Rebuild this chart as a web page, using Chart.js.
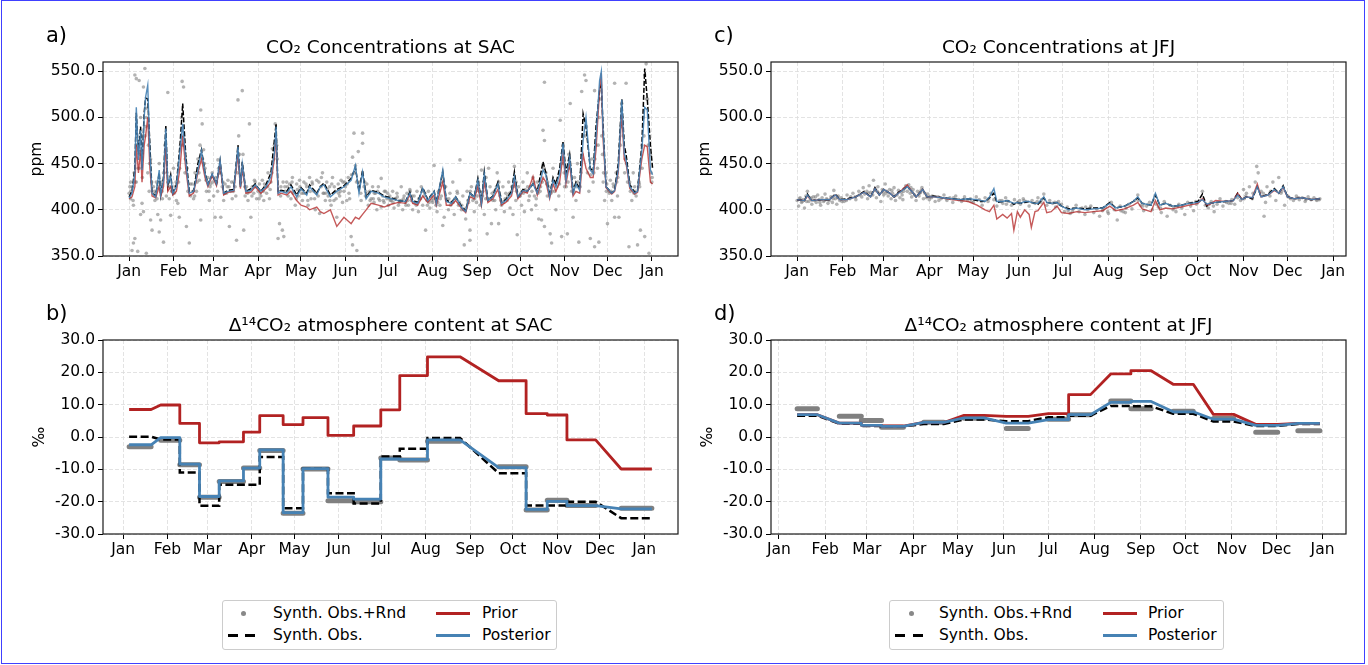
<!DOCTYPE html>
<html><head><meta charset="utf-8">
<script src="https://cdn.jsdelivr.net/npm/chart.js@4.4.0/dist/chart.umd.min.js"></script>
<style>
html,body{margin:0;padding:0;background:#fff;}
body{width:1368px;height:665px;position:relative;overflow:hidden;font-family:"DejaVu Sans",sans-serif;}
#outer{position:absolute;left:1px;top:0;width:1364px;height:664px;box-sizing:border-box;border:1px solid #4040ff;pointer-events:none;}
canvas{position:absolute;}
.legend{position:absolute;box-sizing:border-box;border:1px solid #cccccc;border-radius:3px;background:#fff;width:335px;height:50px;font-size:15.5px;color:#000;}
.legend div{position:absolute;}
.lt{line-height:18px;white-space:nowrap;}
.dot{width:5px;height:5px;border-radius:50%;background:#888;}
.dash{height:3px;width:10px;background:#000;}
.ln{height:3px;width:34px;}
</style>
</head><body>
<div id="outer"></div>
<canvas id="cA" width="690" height="295" style="left:0;top:0"></canvas>
<canvas id="cB" width="690" height="270" style="left:0;top:295px"></canvas>
<canvas id="cC" width="683" height="295" style="left:685px;top:0"></canvas>
<canvas id="cD" width="683" height="270" style="left:685px;top:295px"></canvas>

<div class="legend" style="left:222px;top:600px">
  <div class="dot" style="left:18px;top:10px"></div>
  <div class="lt" style="left:50px;top:3px">Synth. Obs.+Rnd</div>
  <div class="dash" style="left:5px;top:33px"></div><div class="dash" style="left:22px;top:33px"></div>
  <div class="lt" style="left:50px;top:25px">Synth. Obs.</div>
  <div class="ln" style="left:213px;top:11px;background:#b22222"></div>
  <div class="lt" style="left:259px;top:3px">Prior</div>
  <div class="ln" style="left:213px;top:33px;background:#4682b4"></div>
  <div class="lt" style="left:259px;top:25px">Posterior</div>
</div>
<div class="legend" style="left:889px;top:600px">
  <div class="dot" style="left:19px;top:10px"></div>
  <div class="lt" style="left:49px;top:3px">Synth. Obs.+Rnd</div>
  <div class="dash" style="left:5px;top:33px"></div><div class="dash" style="left:23px;top:33px"></div>
  <div class="lt" style="left:49px;top:25px">Synth. Obs.</div>
  <div class="ln" style="left:213px;top:11px;background:#b22222"></div>
  <div class="lt" style="left:258px;top:3px">Prior</div>
  <div class="ln" style="left:213px;top:33px;background:#4682b4"></div>
  <div class="lt" style="left:258px;top:25px">Posterior</div>
</div>

<script>
// ---------- axis ticks ----------
const monthStartDays = [0,31,59,90,120,151,181,212,243,273,304,334,365];
const monthLabels = ['Jan','Feb','Mar','Apr','May','Jun','Jul','Aug','Sep','Oct','Nov','Dec','Jan'];
const ppmTicks = [350,400,450,500,550];
const permilTicks = [-30,-20,-10,0,10,20,30];

// ---------- panel a: CO2 at SAC (day of year, ppm) ----------
const daysA = [0,2,4,5,6.5,8,9,10.5,11.5,13,14.5,16,18.5,21,22,24,25.6,27,29,30.5,33,35.5,37.4,39.5,42,45,48,50.5,53,55,58,61,63.5,66,69,73,76,77.7,79,81.5,85,88,92,95.5,99,101.4,102.6,104,106,110,113,117,120,124,126,131,133.5,136,140.5,145,150,155,158,160.5,163,165.5,169,174,178,183,188,193,196,198,201.5,205,208.5,213,214.5,219,221.5,225,228,232,235,238,241,243.5,246,248,250.5,254,257.5,260,263,267,269,271.5,275,278,282,285,289,291,293.6,296,298,300.6,303,305,307.6,310,312,314.6,317,319,322,324,326,328.5,329.7,330.8,333,337,339,341.5,344,345.7,347,349.6,353,355,358,360,361.8,364,365.5];
const postA = [413,418,440,511,454,486,443,500,522,535,461,418,414,443,416,432,488,428,436,418,425,464,493,454,418,420,443,464,439,427,439,428,454,418,420,421,468,425,450,420,421,427,420,425,436,461,490,418,420,418,425,414,423,416,425,416,425,427,414,420,425,432,448,418,441,412,420,418,414,412,410,409,418,409,407,423,410,420,407,443,409,407,414,403,398,418,414,432,407,439,410,414,428,407,410,418,436,414,421,420,428,418,443,438,414,432,425,439,472,432,457,418,428,421,475,500,443,439,479,540,550,490,425,418,421,443,519,461,454,425,418,420,464,511,508,443,438];
const priorA = [412,414,425,470,440,465,430,470,480,500,445,415,413,425,414,425,470,420,425,416,420,445,480,445,415,418,440,455,435,425,437,426,450,416,419,420,460,423,445,418,419,425,418,423,430,455,480,416,418,416,420,410,405,403,400,403,398,396,400,382,392,385,392,390,395,400,407,405,403,406,408,407,416,407,405,415,408,416,405,430,405,405,410,402,397,414,412,425,405,430,408,412,422,405,408,415,430,412,420,418,436,416,435,430,412,428,420,430,460,428,450,415,420,418,460,445,435,435,465,530,548,480,424,417,420,440,505,455,450,423,417,419,455,470,468,430,428];
const obsA = [414,420,445,505,460,490,445,505,521,520,470,418,415,440,416,435,491,425,438,418,427,470,515,460,420,420,450,465,440,428,438,428,453,418,421,422,470,425,452,420,423,428,420,427,440,475,493,419,421,420,427,416,424,418,427,418,425,429,416,422,426,434,446,420,443,414,421,419,415,413,410,409,419,410,408,424,411,420,408,441,410,408,414,404,399,418,414,434,408,441,410,415,430,408,411,420,441,414,422,420,428,420,452,440,415,435,428,445,474,440,460,420,430,423,504,490,445,441,490,530,535,495,425,418,421,450,520,470,460,427,419,421,470,553,520,470,445];
const obsRndA = [[0,418],[1,412],[1,430],[2,356],[2,425],[3,364],[3,405],[4,369],[4,546],[5,542],[5,430],[6,355],[6,470],[7,540],[7,445],[8,395],[8,500],[9,407],[9,460],[10,533],[10,398],[11,553],[11,480],[12,353],[12,500],[13,440],[14,420],[15,389],[15,455],[16,378],[17,425],[18,410],[19,430],[20,395],[21,376],[21,450],[22,389],[23,420],[24,365],[24,440],[25,470],[26,415],[27,527],[27,430],[28,412],[29,394],[30,420],[31,445],
[32,425],[33,410],[34,407],[35,392],[36,470],[37,539],[38,533],[38,480],[39,440],[40,382],[41,420],[42,364],[43,415],[44,428],[45,412],[46,440],[47,420],[48,455],[49,432],[50,508],[50,389],[51,493],[52,465],[53,445],[54,420],[55,435],[56,410],[57,428],[58,440],[59,415],
[60,392],[61,430],[62,454],[63,440],[64,392],[65,425],[66,410],[67,428],[68,418],[69,432],[70,382],[71,420],[72,412],[73,430],[74,425],[75,367],[76,519],[77,460],[78,430],[79,529],[80,378],[81,415],[82,425],[83,410],[84,493],[85,392],[86,425],[87,418],[88,430],[89,412],
[90,420],[91,428],[92,415],[93,432],[94,410],[95,425],[96,418],[97,440],[98,412],[99,430],[100,466],[101,455],[102,493],[103,470],[104,369],[105,385],[106,425],[107,378],[108,371],[109,420],[110,430],[111,415],[112,428],[113,412],[114,435],[115,420],[116,405],[117,428],[118,415],[119,432],
[120,422],[121,410],[122,430],[123,418],[124,425],[125,405],[126,435],[127,412],[128,428],[129,420],[130,400],[131,432],[132,415],[133,396],[134,425],[135,440],[136,418],[137,410],[138,430],[139,415],[140,425],[141,405],[142,435],[143,410],[144,420],[145,392],[146,428],[147,415],[148,432],[149,408],[150,420],
[151,425],[152,410],[153,435],[154,412],[155,371],[156,457],[156,362],[157,483],[158,448],[159,356],[160,463],[161,430],[162,410],[163,472],[163,483],[164,425],[165,415],[166,428],[167,405],[168,420],[169,412],[170,425],[171,408],[172,418],[173,400],[174,425],[175,410],[176,434],[176,403],[177,415],[178,408],[179,420],[180,412],
[181,405],[182,415],[183,410],[184,420],[185,402],[186,412],[187,418],[188,405],[189,410],[190,425],[191,400],[192,415],[193,408],[194,418],[195,405],[196,422],[197,410],[198,400],[199,415],[200,408],[201,420],[202,398],[203,412],[204,425],[205,405],[206,415],[207,378],[208,410],[209,420],[210,402],[211,415],
[212,408],[213,448],[214,412],[215,398],[216,420],[217,405],[218,415],[219,383],[220,392],[221,425],[222,410],[223,400],[224,418],[225,408],[226,430],[227,395],[228,412],[229,420],[230,405],[231,454],[232,400],[233,415],[234,362],[235,390],[236,420],[237,408],[238,367],[238,378],[239,425],[240,410],[241,398],[242,420],
[243,415],[244,430],[245,405],[246,443],[247,420],[248,395],[249,412],[250,374],[251,445],[252,425],[253,385],[254,410],[255,420],[256,400],[257,440],[258,385],[259,415],[260,405],[261,425],[262,398],[263,418],[264,410],[265,430],[266,402],[267,420],[268,395],[269,447],[270,410],[271,373],[272,425],
[273,415],[274,405],[275,430],[276,398],[277,420],[278,440],[279,410],[280,425],[281,400],[282,435],[283,415],[284,405],[285,430],[286,390],[287,420],[288,389],[289,486],[290,538],[290,475],[290,382],[291,440],[292,415],[293,425],[294,374],[295,364],[296,445],[297,420],[298,400],[299,430],[300,415],[301,497],[302,371],[303,470],[304,425],
[305,440],[306,374],[307,460],[308,515],[309,420],[310,392],[311,435],[312,410],[313,450],[314,365],[315,425],[316,528],[317,480],[318,546],[319,540],[320,440],[321,420],[322,369],[323,455],[324,430],[325,529],[325,360],[326,470],[327,445],[328,365],[329,520],[330,480],[331,430],[332,410],[333,440],[334,385],
[335,420],[336,432],[337,410],[338,428],[339,537],[339,392],[340,440],[341,415],[342,392],[343,470],[344,515],[345,480],[346,440],[347,537],[348,430],[349,360],[350,420],[351,410],[352,440],[353,425],[354,415],[355,362],[356,430],[357,378],[358,470],[359,500],[360,546],[360,371],[361,558],[362,520],[363,353],[364,460],[365,430],
[0.5,425],[3.5,440],[5.5,470],[9.5,480],[12.5,510],[13.5,470],[17.5,420],[19.5,412],[22.5,430],[25.5,460],[28.5,425],[31.5,418],[34.5,430],[36.5,500],[40.5,445],[44.5,420],[47.5,430],[49.5,470],[52.5,450],[56.5,425],
[60.5,435],[62.5,445],[65.5,430],[68.5,425],[71.5,430],[74.5,415],[76.5,480],[79.5,460],[83.5,420],[87.5,432],[91.5,418],[94.5,428],[98.5,422],[101.5,470],[103.5,455],[107.5,430],[110.5,425],[114.5,418],[117.5,422],
[120.5,418],[123.5,428],[126.5,420],[129.5,412],[132.5,430],[135.5,418],[138.5,422],[141.5,428],[144.5,412],[147.5,420],[150.5,430],[153.5,418],[157.5,440],[160.5,425],[164.5,430],[167.5,418],[170.5,412],[173.5,420],[177.5,410],[180.5,418],
[182.5,410],[185.5,412],[188.5,408],[191.5,412],[194.5,410],[197.5,415],[200.5,405],[203.5,412],[206.5,418],[209.5,408],[212.5,412],[215.5,408],[218.5,430],[221.5,412],[224.5,405],[227.5,412],[230.5,408],[233.5,400],[236.5,410],[239.5,415],[242.5,408],
[244.5,420],[247.5,430],[250.5,412],[253.5,418],[256.5,425],[259.5,410],[262.5,412],[265.5,418],[268.5,425],[270.5,420],[273.5,418],[276.5,422],[279.5,415],[282.5,430],[285.5,418],[288.5,430],[291.5,428],[294.5,418],[297.5,430],[300.5,428],[303.5,450],
[306.5,430],[309.5,425],[312.5,425],[315.5,440],[318.5,480],[321.5,445],[324.5,440],[327.5,470],[330.5,460],[333.5,428],[336.5,420],[340.5,430],[343.5,490],[346.5,455],[349.5,430],[352.5,418],[356.5,425],[359.5,480],[362.5,470],[364.5,440],
[1.25,420],[2.75,410],[4.25,430],[6.25,445],[7.75,460],[9.25,435],[11.25,490],[14.25,450],[15.75,430],[18.25,418],[20.25,425],[23.25,412],[26.25,440],[29.75,420],
[32.75,430],[35.25,445],[37.75,470],[39.25,455],[42.75,428],[45.75,415],[48.75,440],[51.25,455],[53.75,432],[55.75,420],[58.25,430],
[61.75,420],[63.25,440],[66.75,418],[69.75,425],[72.75,420],[75.75,440],[78.25,438],[80.75,425],[82.75,418],[85.75,415],[88.75,425],
[90.75,412],[93.75,420],[96.75,425],[99.75,440],[102.25,475],[105.75,415],[108.75,425],[111.75,420],[113.75,430],[116.75,412],[119.25,425],
[121.75,418],[124.75,410],[127.75,430],[130.75,418],[134.25,435],[137.25,418],[140.25,410],[143.25,425],[146.25,418],[149.25,430],
[152.25,428],[155.25,438],[158.75,430],[161.75,418],[165.25,420],[168.25,410],[171.25,418],[174.25,412],[178.25,420],
[181.75,412],[184.25,408],[187.25,414],[190.25,410],[193.25,405],[196.25,420],[199.25,408],[202.25,412],[205.25,420],[208.25,405],[211.25,410],
[214.25,405],[217.25,412],[220.25,425],[223.25,412],[226.25,408],[229.25,418],[232.25,405],[235.25,402],[238.25,420],[241.25,412],
[243.75,425],[246.75,415],[249.25,435],[252.25,412],[255.25,410],[258.25,430],[261.25,408],[264.25,415],[267.25,425],[270.25,430],[272.75,415],
[275.25,418],[278.25,425],[281.25,420],[284.25,412],[287.25,425],[289.75,445],[292.25,430],[295.25,420],[298.75,425],[301.75,450],[303.75,440],
[305.25,425],[307.25,445],[310.25,420],[313.25,430],[316.25,460],[319.25,490],[322.25,438],[325.25,455],[328.25,500],[331.25,440],[333.25,420],
[335.25,418],[338.25,425],[341.25,435],[344.25,500],[347.25,450],[350.25,425],[353.25,420],[356.25,428],[358.25,445],[361.25,520],[363.25,470],[365.25,435]];

// ---------- panel c: CO2 at JFJ ----------
const daysC = [0,5,7,10,16,22,26,29,34,40,45.6,50,53,56,59,63,66,69,75,78,81,85.5,88.5,93,99,105,111,116.5,122.5,128,131,134,136,140,143,146,147.6,150,152,155,158,159.5,162,164,168,170,173,177,180,185,190.5,196,202,208,213,217,223,229,232,235,241,244,247,251,255.6,261.5,267,273,276,279,281,285,291,297,300,303,306,310,313.4,316,320.7,325,328,331,334,338.5,344,350,356];
const postC = [411,410,416,410,411,411,416,411,411,414,419,414,423,416,422,418,414,418,425,420,414,422,414,414,413,412,411,412,411,409,414,423,409,409,410,408,407,408,407,409,409,408,407,407,414,408,407,408,404,400,402,400,401,402,407,402,404,409,414,407,405,418,405,407,404,405,407,408,411,406,407,408,409,410,416,411,414,413,425,414,416,422,418,425,414,412,413,411,412];
const priorC = [411,410,415,410,411,411,416,411,411,414,419,414,423,416,422,418,414,418,427,420,414,422,414,414,413,411,410,409,405,400,398,405,390,395,391,396,378,398,392,400,395,381,398,399,408,397,398,404,397,396,398,397,398,399,404,399,401,405,408,401,398,410,400,402,401,403,405,407,412,405,406,410,409,410,418,411,414,413,428,414,416,421,418,424,414,412,413,411,412];
const obsC = [411,410,417,410,411,411,417,411,412,414,420,414,424,416,422,418,414,419,425,420,414,422,414,415,413,412,411,412,410,409,413,418,408,409,410,408,406,408,407,408,409,408,407,406,413,408,407,408,404,401,402,401,402,402,408,402,404,409,413,407,405,416,405,407,404,405,407,409,417,404,407,408,409,410,418,411,414,412,425,414,417,423,418,426,414,412,413,411,412];
const obsRndC = [[0,410],[1,404],[2,413],[3,408],[4,411],[5,402],[6,415],[7,420],[8,409],[9,412],[10,406],[11,414],[12,410],[13,408],[14,416],[15,411],[16,405],[17,413],[18,409],[19,417],[20,412],[21,407],[22,410],[23,414],[24,408],[25,421],[26,412],[27,406],[28,415],[29,410],[30,413],
[32,409],[34,416],[36,412],[38,418],[40,411],[42,420],[44,414],[45,424],[46,417],[48,412],[49,426],[50,419],[52,432],[53,421],[54,413],[55,425],[56,418],[57,409],[58,422],[59,416],
[60,428],[61,420],[62,415],[63,422],[64,412],[65,418],[66,424],[67,410],[68,416],[69,421],[70,413],[71,419],[72,411],[73,423],[74,426],[75,420],[76,427],[77,418],[78,414],[79,422],[80,416],[81,410],[82,420],[83,415],[84,419],[85,424],[86,412],[87,418],[88,413],[89,417],
[90,411],[92,415],[94,409],[96,414],[98,412],[100,416],[102,410],[104,413],[106,408],[108,415],[110,411],[112,409],[114,414],[116,410],[118,412],
[120,408],[122,414],[124,411],[126,405],[128,413],[130,409],[132,418],[134,411],[136,404],[138,410],[140,407],[142,413],[144,409],[146,405],[148,411],[150,408],
[152,406],[154,412],[156,409],[158,404],[160,410],[162,407],[164,413],[166,408],[168,417],[170,405],[172,410],[174,407],[176,403],[178,409],[180,406],
[182,398],[184,403],[186,396],[188,401],[190,405],[192,398],[194,402],[196,395],[198,400],[200,404],[202,397],[204,401],[206,393],[208,399],[210,403],
[212,396],[214,408],[216,400],[218,389],[220,404],[222,398],[224,402],[226,406],[228,401],[230,410],[232,416],[234,405],[236,399],[238,404],[240,408],[242,400],
[244,415],[246,403],[248,397],[250,409],[252,393],[254,405],[256,400],[258,398],[260,406],[262,402],[264,395],[266,408],[268,404],[270,399],[272,406],
[274,410],[276,420],[278,405],[280,402],[282,409],[284,398],[286,406],[288,412],[290,404],[292,409],[294,407],[296,411],[298,406],[300,413],[302,410],
[304,422],[306,418],[308,425],[310,412],[312,430],[313,447],[314,440],[316,420],[318,393],[319,408],[320,425],[322,415],[324,430],[326,410],[328,435],[330,420],[332,405],[334,415],
[336,412],[338,410],[340,415],[342,411],[344,413],[346,409],[348,414],[350,411],[352,413],[354,410],[356,412],
[3.5,409],[9.5,413],[15.5,408],[20.5,411],[27.5,413],[33.5,410],[39.5,414],[47.5,420],[51.5,416],[58.5,419],[64.5,421],[71.5,416],[77.5,424],[83.5,418],[91.5,413],[101.5,412],[113.5,411],[125.5,409],[139.5,410],[151.5,410],
[163.5,409],[175.5,408],[187.5,398],[199.5,402],[211.5,398],[223.5,397],[235.5,404],[247.5,402],[259.5,404],[271.5,409],[283.5,404],[295.5,407],[305.5,415],[317.5,418],[329.5,418],[341.5,413],[353.5,411],
[1.5,412],[6.5,409],[12.5,414],[18.5,410],[24.5,412],[30.5,409],[36.5,414],[42.5,416],[48.5,418],[54.5,420],[60.5,418],[66.5,415],[72.5,420],[78.5,419],[84.5,421],[90.5,414],[96.5,410],[106.5,413],[118.5,409],[130.5,412],
[142.5,406],[154.5,410],[166.5,411],[178.5,406],[184.5,399],[196.5,403],[208.5,401],[220.5,399],[232.5,410],[244.5,406],[256.5,403],[268.5,407],[280.5,406],[292.5,408],[304.5,412],[310.5,418],[322.5,420],[334.5,414],[346.5,411],[355.5,411]];

// ---------- panel b: D14CO2 at SAC (sample start/end day, permil) ----------
const sampleStartB = [4.2,26.3,39.7,53.5,67.3,84.3,95.7,112.1,126.0,143.5,161.5,180.5,193.8,213.2,263.1,282.3,297.1,310.9,348.9];
const sampleEndB   = [19.6,39.7,53.5,67.3,84.3,95.7,112.1,126.0,143.5,161.5,180.5,193.8,213.2,236.0,282.3,297.1,310.9,331.0,370.4];
const priorB  = [8.5,9.9,4.2,-1.8,-1.5,1.5,6.6,3.8,6.0,0.5,3.4,8.4,19.0,24.8,17.4,7.2,6.8,-0.9,-9.9];
const postB   = [-2.4,-0.2,-8.4,-18.4,-13.6,-9.6,-4.0,-23.4,-9.8,-18.6,-19.2,-6.8,-6.9,-0.9,-9.5,-22.4,-19.9,-21.2,-22.2];
const obsB    = [0.1,-0.8,-11.0,-21.3,-14.8,-14.8,-6.2,-22.0,-9.8,-17.4,-20.6,-6.0,-3.6,-0.3,-11.2,-21.2,-21.2,-20.0,-25.1];
const obsRndB = [-3.0,-1.0,-8.6,-18.6,-13.8,-9.6,-4.2,-23.6,-9.9,-19.7,-20.0,-6.5,-7.1,-1.3,-9.2,-22.6,-19.6,-21.2,-22.0];

// ---------- panel d: D14CO2 at JFJ ----------
const sampleStartD = [12.2,40.5,55.3,68.9,97.2,124.3,152.6,180.9,194.5,222.8,236.3,264.7,291.7,320.1,348.4];
const sampleEndD   = [25.8,55.3,68.9,83.6,110.7,137.8,167.4,194.5,209.2,236.3,249.9,278.2,305.3,334.9,363.2];
const priorD  = [6.9,4.3,3.6,3.4,4.5,6.7,6.4,7.2,13.1,19.5,20.5,16.3,7.0,3.9,4.2];
const postD   = [6.9,4.3,3.6,3.3,4.5,5.9,4.3,5.4,6.9,10.7,11.0,7.8,5.5,3.6,4.2];
const obsD    = [6.6,4.1,3.4,3.3,4.0,5.4,4.9,6.1,6.6,9.6,9.5,7.2,4.8,3.4,4.0];
const obsRndD = [8.7,6.4,5.1,3.0,4.6,5.8,2.6,5.5,6.9,11.1,8.7,8.0,5.7,1.5,1.9];

// ---------- styling ----------
const C_PRIOR = '#b22222', C_POST = '#4682b4', C_OBS = '#000000', C_RND = '#808080';
const FS = 15.5;
Chart.defaults.font.family = '"DejaVu Sans", sans-serif';
Chart.defaults.color = '#000';

const series = (xs, ys) => xs.map((x, i) => ({x, y: ys[i]}));
const steps = (s, e, v) => { const out = []; s.forEach((st, i) => { out.push({x: st, y: v[i]}); out.push({x: e[i], y: v[i]}); }); return out; };
const segments = (s, e, v) => { const out = []; s.forEach((st, i) => { out.push({x: st, y: v[i]}); out.push({x: e[i], y: v[i]}); out.push({x: e[i], y: null}); }); return out; };

const annot = {
  id: 'annot',
  afterDraw(chart, args, opts) {
    const {ctx, chartArea: a} = chart;
    ctx.save();
    ctx.strokeStyle = '#1a1a1a'; ctx.lineWidth = 1.2; ctx.setLineDash([]);
    ctx.strokeRect(a.left, a.top, a.right - a.left, a.bottom - a.top);
    ctx.fillStyle = '#000';
    ctx.font = '18.5px "DejaVu Sans"'; ctx.textAlign = 'center'; ctx.textBaseline = 'alphabetic';
    ctx.fillText(opts.title, (a.left + a.right) / 2, a.top - 9);
    ctx.font = '21px "DejaVu Sans"'; ctx.textAlign = 'left';
    ctx.fillText(opts.label, a.left - 57, a.top - 20);
    ctx.restore();
  }
};

function gridOpts() {
  return {color: '#dcdcdc', lineWidth: 0.8, tickColor: '#000', tickLength: 5, tickWidth: 1, tickBorderDash: []};
}
function xAxis(min, max, h) {
  return {
    type: 'linear', min, max,
    afterBuildTicks: ax => { ax.ticks = monthStartDays.map(v => ({value: v})); },
    afterFit: ax => { ax.height = h; },
    ticks: {callback: v => monthLabels[monthStartDays.indexOf(v)], color: '#000', font: {size: FS}, padding: 2, maxRotation: 0, autoSkip: false},
    grid: gridOpts(),
    border: {display: false, dash: [4, 2]}
  };
}
function yAxis(min, max, tickVals, w, title, titlePad) {
  return {
    type: 'linear', min, max,
    afterBuildTicks: ax => { ax.ticks = tickVals.map(v => ({value: v})); },
    afterFit: ax => { ax.width = w; },
    ticks: {callback: v => v.toFixed(1), color: '#000', font: {size: FS}, padding: 3},
    grid: gridOpts(),
    border: {display: false, dash: [4, 2]},
    title: {display: true, text: title, color: '#000', font: {size: FS}, padding: {top: titlePad, bottom: 0}}
  };
}

function co2Panel(id, days, post, prior, obs, rnd, xmin, xmax, yW, titlePad, rightPad, title, label) {
  new Chart(document.getElementById(id), {
    type: 'scatter',
    data: {datasets: [
      {data: series(days, post), showLine: true, borderColor: 'rgba(70,130,180,0.92)', borderWidth: 1.4, pointRadius: 0, order: 0},
      {data: series(days, prior), showLine: true, borderColor: 'rgba(178,34,34,0.75)', borderWidth: 1.4, pointRadius: 0, order: 1},
      {data: series(days, obs), showLine: true, borderColor: C_OBS, borderWidth: 1.5, borderDash: [5, 2], pointRadius: 0, order: 2},
      {data: rnd.map(p => ({x: p[0], y: p[1]})), showLine: false, pointRadius: 1.8, pointBorderWidth: 0, pointBackgroundColor: 'rgba(128,128,128,0.6)', order: 3}
    ]},
    options: {
      responsive: false, animation: false, devicePixelRatio: 1,
      layout: {padding: {left: 0, top: 62, right: rightPad, bottom: 0}},
      scales: {x: xAxis(xmin, xmax, 39), y: yAxis(350, 560, ppmTicks, yW, 'ppm', titlePad)},
      plugins: {legend: {display: false}, tooltip: {enabled: false}, annot: {title, label}}
    },
    plugins: [annot]
  });
}

function d14Panel(id, s, e, post, prior, obs, rnd, xmin, xmax, yW, titlePad, rightPad, title, label) {
  new Chart(document.getElementById(id), {
    type: 'scatter',
    data: {datasets: [
      {data: steps(s, e, post), showLine: true, borderColor: C_POST, borderWidth: 2.8, pointRadius: 0, borderJoinStyle: 'round', order: 0},
      {data: steps(s, e, prior), showLine: true, borderColor: C_PRIOR, borderWidth: 2.8, pointRadius: 0, borderJoinStyle: 'round', order: 1},
      {data: steps(s, e, obs), showLine: true, borderColor: C_OBS, borderWidth: 2.5, borderDash: [8, 3.5], pointRadius: 0, order: 2},
      {data: segments(s, e, rnd), showLine: true, spanGaps: false, borderColor: C_RND, borderWidth: 5, borderCapStyle: 'round', pointRadius: 0, order: 3}
    ]},
    options: {
      responsive: false, animation: false, devicePixelRatio: 1,
      layout: {padding: {left: 0, top: 45, right: rightPad, bottom: 0}},
      scales: {x: xAxis(xmin, xmax, 31), y: yAxis(-30, 30, permilTicks, yW, '\u2030', titlePad)},
      plugins: {legend: {display: false}, tooltip: {enabled: false}, annot: {title, label}}
    },
    plugins: [annot]
  });
}

co2Panel('cA', daysA, postA, priorA, obsA, obsRndA, -18.25, 383.25, 103, 28, 12, 'CO\u2082 Concentrations at SAC', 'a)');
co2Panel('cC', daysC, postC, priorC, obsC, obsRndC, -17.8, 373.8, 86, 11, 22, 'CO\u2082 Concentrations at JFJ', 'c)');
d14Panel('cB', sampleStartB, sampleEndB, postB, priorB, obsB, obsRndB, -14.1, 388.7, 103, 31, 12, '\u0394\u00b9\u2074CO\u2082 atmosphere content at SAC', 'b)');
d14Panel('cD', sampleStartD, sampleEndD, postD, priorD, obsD, obsRndD, -5.35, 380.75, 86, 14, 22, '\u0394\u00b9\u2074CO\u2082 atmosphere content at JFJ', 'd)');
</script>
</body></html>
